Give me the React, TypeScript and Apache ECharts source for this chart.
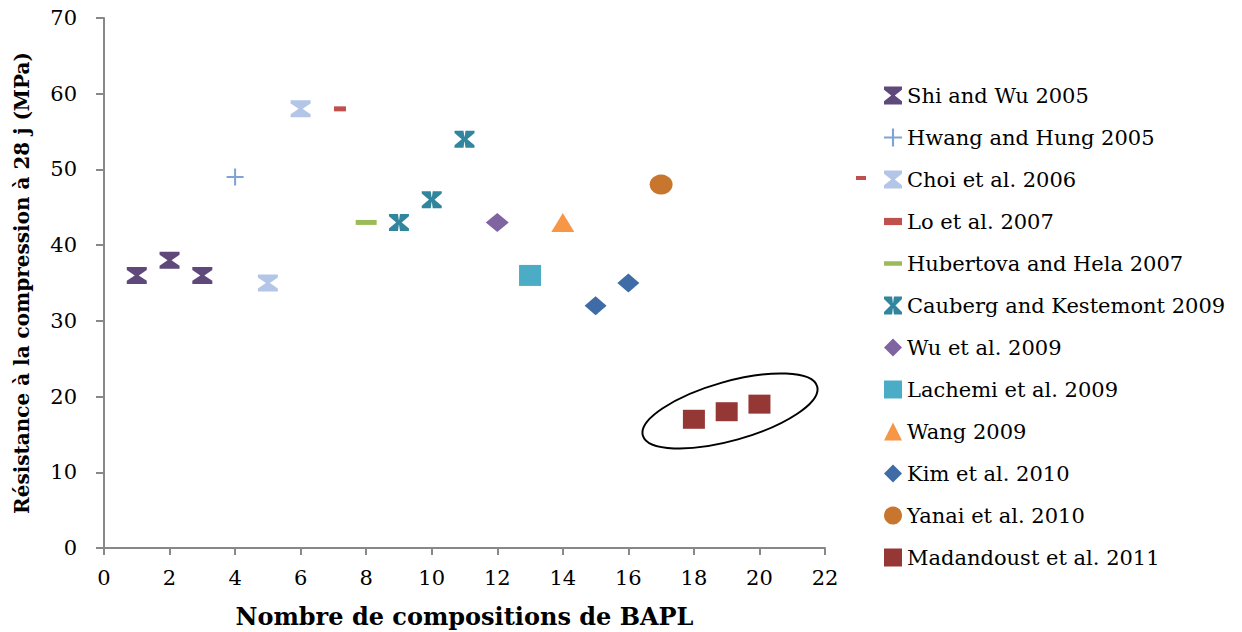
import React, { useEffect, useRef } from "react";
import * as echarts from "echarts";

const seriesNames = [
  "Shi and Wu 2005",
  "Hwang and Hung 2005",
  "Choi et al. 2006",
  "Lo et al. 2007",
  "Hubertova and Hela 2007",
  "Cauberg and Kestemont 2009",
  "Wu et al. 2009",
  "Lachemi et al. 2009",
  "Wang 2009",
  "Kim et al. 2010",
  "Yanai et al. 2010",
  "Madandoust et al. 2011",
];

const shiWu: number[][] = [[1, 36], [2, 38], [3, 36]];
const hwangHung: number[][] = [[4, 49]];
const choi: number[][] = [[5, 35], [6, 58]];
const lo: number[][] = [[7.2, 58]];
const hubertova: number[][] = [[8, 43]];
const cauberg: number[][] = [[9, 43], [10, 46], [11, 54]];
const wu: number[][] = [[12, 43]];
const lachemi: number[][] = [[13, 36]];
const wang: number[][] = [[14, 43]];
const kim: number[][] = [[15, 32], [16, 35]];
const yanai: number[][] = [[17, 48]];
const madandoust: number[][] = [[18, 17], [19, 18], [20, 19]];

const allData = [shiWu, hwangHung, choi, lo, hubertova, cauberg, wu, lachemi, wang, kim, yanai, madandoust];

const colors = [
  "#5F497A", "#7FA3D5", "#B3C6E7", "#C0504D", "#9BBB59", "#31859C",
  "#8064A2", "#4BACC6", "#F79646", "#3F6CA6", "#C8762E", "#953735",
];

const HOURGLASS = "path://M0,0 L10,0 L10,1.8 L6,5 L10,8.2 L10,10 L0,10 L0,8.2 L4,5 L0,1.8 Z";
const HOURGLASS_X = "path://M0,0 L4.5,0 L5,4.2 L5.5,0 L10,0 L5.8,5 L10,10 L5.5,10 L5,5.8 L4.5,10 L0,10 L4.2,5 Z M8.6,0 L10,0 L10,1.4 L1.4,10 L0,10 L0,8.6 Z M0,0 L1.4,0 L10,8.6 L10,10 L8.6,10 L0,1.4 Z";
const PLUS = "path://M4.4,0 L5.6,0 L5.6,4.4 L10,4.4 L10,5.6 L5.6,5.6 L5.6,10 L4.4,10 L4.4,5.6 L0,5.6 L0,4.4 L4.4,4.4 Z";
const DASH_SHORT = "path://M0,0 L10,0 L10,4 L0,4 Z";
const DASH_LONG = "path://M0,0 L20,0 L20,5 L0,5 Z";

const symbols = [
  HOURGLASS, PLUS, HOURGLASS, DASH_SHORT, DASH_LONG, HOURGLASS_X,
  "diamond", "rect", "triangle", "diamond", "circle", "rect",
];
const symbolSizes: any[] = [
  [20, 17], 17, [20, 17], [12, 5], [21, 5], [20, 17],
  [23, 19], [22, 21], [23, 19], [22, 19], [23, 20], [22, 19],
];

const xTicks = { min: 0, max: 22, interval: 2 };
const yTicks = { min: 0, max: 70, interval: 10 };

const SERIF = "DejaVu Serif, Liberation Serif, serif";

export default function App() {
  const ref = useRef<HTMLDivElement>(null);
  useEffect(() => {
    document.body.style.margin = "0";
    const chart = echarts.init(ref.current!, null, { renderer: "svg" });
    const series = seriesNames.map((name, i) => ({
      name,
      type: "scatter",
      data: allData[i],
      symbol: symbols[i],
      symbolSize: symbolSizes[i],
      symbolKeepAspect: false,
      itemStyle: { color: colors[i], opacity: 1 },
    }));
    chart.setOption({
      animation: false,
      backgroundColor: "#ffffff",
      textStyle: { fontFamily: SERIF, color: "#000" },
      grid: { left: 104, top: 18, right: 417, bottom: 84, outerBoundsMode: "none", containLabel: false },
      xAxis: {
        type: "value",
        min: xTicks.min,
        max: xTicks.max,
        interval: xTicks.interval,
        name: "Nombre de compositions de BAPL",
        nameLocation: "middle",
        nameGap: 56,
        nameTextStyle: { fontFamily: SERIF, fontWeight: "bold", fontSize: 24, color: "#000" },
        axisLine: { show: true, lineStyle: { color: "#888888", width: 2 } },
        axisTick: { show: true, length: 7, lineStyle: { color: "#888888", width: 2 } },
        axisLabel: { fontFamily: SERIF, fontSize: 21, color: "#000", margin: 19 },
        splitLine: { show: false },
      },
      yAxis: {
        type: "value",
        min: yTicks.min,
        max: yTicks.max,
        interval: yTicks.interval,
        name: "Résistance à la compression à 28 j (MPa)",
        nameLocation: "middle",
        nameGap: 72,
        nameTextStyle: { fontFamily: SERIF, fontWeight: "bold", fontSize: 20, color: "#000" },
        axisLine: { show: true, lineStyle: { color: "#888888", width: 2 } },
        axisTick: { show: true, length: 8, lineStyle: { color: "#888888", width: 2 } },
        axisLabel: { fontFamily: SERIF, fontSize: 21, color: "#000", margin: 27 },
        splitLine: { show: false },
      },
      legend: {
        orient: "vertical",
        left: 879,
        top: 80,
        itemWidth: 18,
        itemHeight: 18,
        itemGap: 21,
        symbolKeepAspect: true,
        textStyle: { fontFamily: SERIF, fontSize: 21, color: "#000" },
        data: seriesNames,
      },
      graphic: [
        {
          type: "ellipse",
          x: 730,
          y: 411,
          rotation: 0.274,
          shape: { cx: 0, cy: 0, rx: 90.5, ry: 29.5 },
          style: { fill: "none", stroke: "#000", lineWidth: 2 },
          silent: true,
        },
        {
          type: "rect",
          shape: { x: 856, y: 176, width: 10, height: 4 },
          style: { fill: "#C0504D" },
          silent: true,
        },
      ],
      series,
    });
    return () => chart.dispose();
  }, []);
  return <div ref={ref} style={{ width: 1242, height: 632 }} />;
}
